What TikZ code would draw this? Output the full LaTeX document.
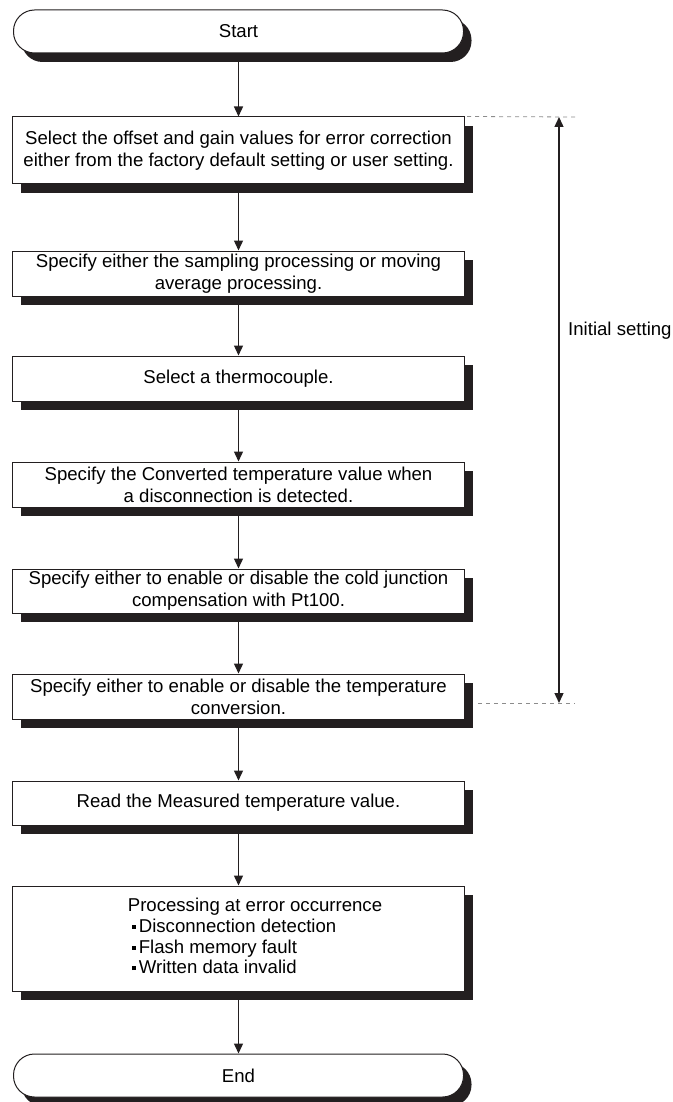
\documentclass[tikz,border=0pt]{standalone}
\usepackage{fontspec}
\setmainfont{Liberation Sans}
\usetikzlibrary{arrows.meta,shadows}
\definecolor{ink}{HTML}{231F20}
\definecolor{dashc}{HTML}{8C8C8C}
\newcommand\bul{\hspace*{4pt}\rule[3.5pt]{4pt}{4pt}\hspace{3pt}}
\begin{document}
\begin{tikzpicture}[x=1pt,y=-1pt,
  box/.style={draw=ink, line width=1pt, fill=white, minimum width=452pt,
    inner sep=0pt, align=center, font=\fontsize{18.6}{22}\selectfont,
    general shadow={fill=ink, shadow xshift=8pt, shadow yshift=-9pt}},
  term/.style={box, rounded corners=21pt, minimum width=450pt, minimum height=43pt},
  flow/.style={draw=ink, line width=1.4pt, -{Triangle[length=10pt,width=9pt]}},
  span/.style={draw=ink, line width=1.4pt, {Triangle[length=10pt,width=9pt]}-{Triangle[length=10pt,width=9pt]}},
  guide/.style={draw=dashc, line width=0.8pt, dash pattern=on 4pt off 4pt}]
\useasboundingbox (0,0) rectangle (672,1102);

\node[term] (s) at (238.5,31.5) {Start};
\node[box, minimum height=67pt] (b1) at (238.5,150.5)
  {Select the offset and gain values for error correction\\either from the factory default setting or user setting.};
\node[box, minimum height=45pt] (b2) at (238.5,273.5)
  {Specify either the sampling processing or moving\\average processing.};
\node[box, minimum height=45pt] (b3) at (238.5,378.5)
  {Select a thermocouple.};
\node[box, minimum height=45pt] (b4) at (238.5,484.5)
  {Specify the Converted temperature value when\\a disconnection is detected.};
\node[box, minimum height=44pt] (b5) at (238.5,591)
  {Specify either to enable or disable the cold junction\\compensation with Pt100.};
\node[box, minimum height=45pt] (b6) at (238.5,696.5)
  {Specify either to enable or disable the temperature\\conversion.};
\node[box, minimum height=44pt] (b7) at (238.5,803)
  {Read the Measured temperature value.};
\node[box, minimum height=105pt, font=\fontsize{18.6}{20.7}\selectfont] (b8) at (238.5,938.5)
  {\hspace*{33pt}\begin{tabular}{@{}l@{}}Processing at error occurrence\\
   \bul Disconnection detection\\
   \bul Flash memory fault\\
   \bul Written data invalid\end{tabular}};
\node[term] (e) at (238.5,1075.5) {End};

\draw[flow] (s.south) -- (b1.north);
\draw[flow] (b1.south) -- (b2.north);
\draw[flow] (b2.south) -- (b3.north);
\draw[flow] (b3.south) -- (b4.north);
\draw[flow] (b4.south) -- (b5.north);
\draw[flow] (b5.south) -- (b6.north);
\draw[flow] (b6.south) -- (b7.north);
\draw[flow] (b7.south) -- (b8.north);
\draw[flow] (b8.south) -- (e.north);

\coordinate (it) at (559,117);
\coordinate (ib) at (559,703);
\coordinate (dt) at (575,117);
\coordinate (db) at (575,703);
\draw[guide, shorten <=2pt] (b1.north east) -- (dt);
\draw[guide, shorten <=13pt] (b6.east |- ib) -- (db);
\draw[span] (it) -- (ib);
\node[anchor=base west, inner sep=0pt, font=\fontsize{18.6}{22}\selectfont] (lab) at (568,335) {Initial setting};
\end{tikzpicture}
\end{document}
